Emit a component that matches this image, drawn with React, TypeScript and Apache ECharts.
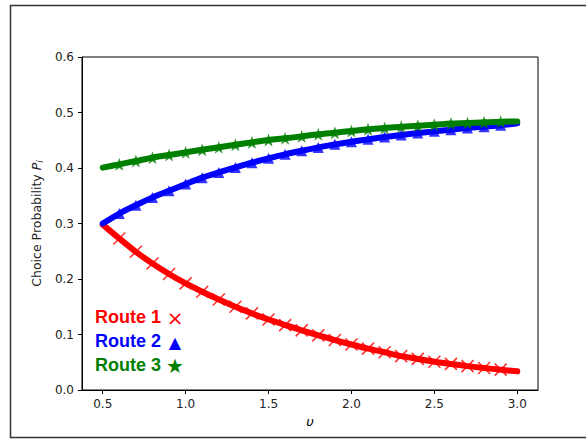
import React, { useEffect, useRef } from "react";
import * as echarts from "echarts";

// Scale parameter values (x axis)
const nu = [
  0.5, 0.6, 0.7, 0.8, 0.9, 1.0, 1.1, 1.2, 1.3, 1.4, 1.5, 1.6, 1.7,
  1.8, 1.9, 2.0, 2.1, 2.2, 2.3, 2.4, 2.5, 2.6, 2.7, 2.8, 2.9, 3.0,
];

// Choice probability of each route
const route1 = [
  0.298, 0.273, 0.249, 0.228, 0.209, 0.192, 0.177, 0.163, 0.15, 0.138,
  0.127, 0.117, 0.1075, 0.0985, 0.09, 0.082, 0.0745, 0.068, 0.061, 0.056,
  0.051, 0.047, 0.043, 0.0396, 0.0366, 0.0336,
];
const route2 = [
  0.3, 0.318, 0.333, 0.347, 0.359, 0.371, 0.3826, 0.392, 0.401, 0.4096,
  0.4174, 0.4246, 0.431, 0.437, 0.4426, 0.4474, 0.4516, 0.4559, 0.4595,
  0.463, 0.466, 0.469, 0.472, 0.4745, 0.477, 0.4805,
];
const route3 = [
  0.4006, 0.4066, 0.4126, 0.4186, 0.4234, 0.4282, 0.433, 0.4373, 0.442,
  0.4462, 0.4505, 0.4535, 0.457, 0.4607, 0.4637, 0.4667, 0.4697, 0.472,
  0.4745, 0.4763, 0.478, 0.48, 0.481, 0.4823, 0.4835, 0.484,
];

const xTicks = [0.5, 1.0, 1.5, 2.0, 2.5, 3.0];
const yTicks = [0.0, 0.1, 0.2, 0.3, 0.4, 0.5, 0.6];

const routeNames = ["Route 1", "Route 2", "Route 3"];
const routeColors = ["#ff0000", "#0000ff", "#008000"];
const routeGlyphs = ["\u00d7", "\u25b2", "\u2605"];

function starPath(): string {
  const pts: string[] = [];
  for (let i = 0; i < 10; i++) {
    const r = i % 2 === 0 ? 10 : 4;
    const a = -Math.PI / 2 + (i * Math.PI) / 5;
    pts.push(`${(10 + r * Math.cos(a)).toFixed(3)},${(10 + r * Math.sin(a)).toFixed(3)}`);
  }
  return "path://M" + pts.join("L") + "Z";
}

const crossSymbol = "path://M0,0L10,10M10,0L0,10";
const FONT = "DejaVu Sans";

export default function App() {
  const ref = useRef<HTMLDivElement>(null);

  useEffect(() => {
    if (!ref.current) return;
    const chart = echarts.init(ref.current, undefined, { renderer: "svg" });

    const pairs = (ys: number[]) => nu.map((x, i) => [x, ys[i]]);
    const inner = (ys: number[]) => pairs(ys).slice(1, -1);
    const all = [route1, route2, route3];
    const symbols = [crossSymbol, "triangle", starPath()];
    const symbolSizes = [12, 11, 13];

    const series: any[] = [];
    all.forEach((ys, k) => {
      series.push({
        type: "line",
        name: routeNames[k],
        data: pairs(ys),
        showSymbol: false,
        smooth: 0.3,
        z: 2 + k * 2,
        lineStyle: { color: routeColors[k], width: 6, cap: "round", join: "round" },
      });
      series.push({
        type: "scatter",
        name: routeNames[k] + " markers",
        data: inner(ys),
        symbol: symbols[k],
        symbolSize: symbolSizes[k],
        z: 3 + k * 2,
        itemStyle:
          k === 0
            ? { color: routeColors[k], borderColor: routeColors[k], borderWidth: 1.6 }
            : { color: routeColors[k], borderWidth: 0 },
      });
    });

    const legendItems: any[] = [];
    routeNames.forEach((name, k) => {
      const cy = 318 + k * 24;
      legendItems.push({
        type: "text",
        left: 95,
        top: cy - 10.5,
        z: 50,
        style: {
          text: name,
          fill: routeColors[k],
          font: "bold 18px 'Liberation Sans', Arial, sans-serif",
        },
      });
      legendItems.push({
        type: "text",
        x: 175,
        y: cy,
        z: 50,
        style: {
          text: routeGlyphs[k],
          fill: routeColors[k],
          align: "center",
          verticalAlign: "middle",
          font: (k === 0 ? "20px" : k === 1 ? "16px" : "20px") + " 'DejaVu Sans', sans-serif",
        },
      });
    });

    chart.setOption({
      animation: false,
      backgroundColor: "#ffffff",
      grid: { left: 82, right: 48, top: 57, bottom: 49, show: true, borderColor: "#000", borderWidth: 1 },
      xAxis: {
        type: "value",
        min: 0.375,
        max: 3.125,
        name: "\u03c5",
        nameLocation: "middle",
        nameGap: 25,
        nameTextStyle: { fontFamily: FONT, fontSize: 13, fontStyle: "italic", color: "#000" },
        axisLine: { show: true, onZero: false, lineStyle: { color: "#000", width: 1 } },
        axisTick: { show: true, length: 4, customValues: xTicks, lineStyle: { color: "#000" } },
        axisLabel: {
          customValues: xTicks,
          margin: 8,
          fontFamily: FONT,
          fontSize: 12,
          color: "#222",
          formatter: (v: number) => v.toFixed(1),
        },
        splitLine: { show: false },
      },
      yAxis: {
        type: "value",
        min: 0,
        max: 0.6,
        interval: 0.1,
        name: "{a|Choice Probability }{p|P}{s|i}",
        nameLocation: "middle",
        nameGap: 36,
        nameTextStyle: {
          fontFamily: FONT,
          fontSize: 12.5,
          color: "#222",
          rich: {
            a: { fontFamily: FONT, fontSize: 12.5, color: "#222" },
            p: { fontFamily: FONT, fontSize: 12.5, fontStyle: "italic", color: "#222" },
            s: { fontFamily: FONT, fontSize: 9, fontStyle: "italic", color: "#222", padding: [7, 0, 0, 0] },
          },
        },
        axisLine: { show: true, onZero: false, lineStyle: { color: "#000", width: 1 } },
        axisTick: { show: true, length: 4, lineStyle: { color: "#000" } },
        axisLabel: {
          margin: 8,
          fontFamily: FONT,
          fontSize: 12,
          color: "#222",
          formatter: (v: number) => yTicks.includes(Math.round(v * 10) / 10) ? v.toFixed(1) : "",
        },
        splitLine: { show: false },
      },
      graphic: [
        {
          type: "rect",
          shape: { x: 10.5, y: 5.5, width: 600, height: 432 },
          z: 0,
          style: { fill: "none", stroke: "#333", lineWidth: 1.5 },
        },
        ...legendItems,
      ],
      series,
    });

    return () => chart.dispose();
  }, []);

  return (
    <div
      ref={ref}
      style={{ position: "fixed", left: 0, top: 0, width: 586, height: 439, background: "#fff" }}
    />
  );
}
